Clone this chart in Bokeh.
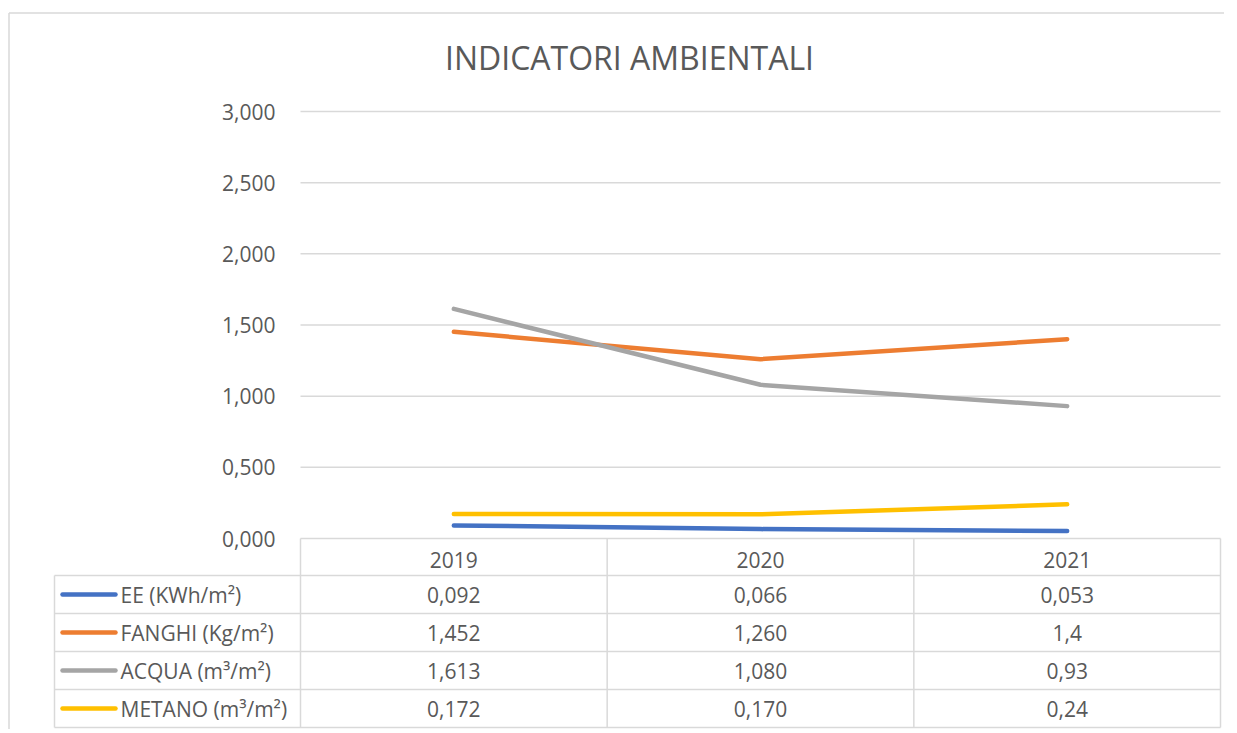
from bokeh.plotting import figure
from bokeh.models import Range1d, FixedTicker
from bokeh.core.properties import value
from bokeh.embed import file_html
from bokeh.resources import INLINE

# ---------------- data ----------------
chart_title = "INDICATORI AMBIENTALI"
years = ["2019", "2020", "2021"]
series_names = ["EE (KWh/m²)", "FANGHI (Kg/m²)", "ACQUA (m³/m²)", "METANO (m³/m²)"]
ee = [0.092, 0.066, 0.053]
fanghi = [1.452, 1.260, 1.4]
acqua = [1.613, 1.080, 0.93]
metano = [0.172, 0.170, 0.24]
ee_txt = ["0,092", "0,066", "0,053"]
fanghi_txt = ["1,452", "1,260", "1,4"]
acqua_txt = ["1,613", "1,080", "0,93"]
metano_txt = ["0,172", "0,170", "0,24"]
y_ticks = [0, 0.5, 1.0, 1.5, 2.0, 2.5, 3.0]
y_tick_labels = ["0,000", "0,500", "1,000", "1,500", "2,000", "2,500", "3,000"]
colors = ["#4472C4", "#ED7D31", "#A5A5A5", "#FFC000"]

series = [ee, fanghi, acqua, metano]
series_txt = [ee_txt, fanghi_txt, acqua_txt, metano_txt]

# ---------------- layout (figure pixels) ----------------
W, H = 1224, 729
PLOT_L, PLOT_R = 300.0, 1220.0       # x = 0 .. 3
PLOT_T, PLOT_B = 111.0, 538.0        # y = 3 .. 0
SX = (PLOT_R - PLOT_L) / 3.0
SY = (PLOT_B - PLOT_T) / 3.0


def fx(px):
    return (px - PLOT_L) / SX


def fy(py):
    return (PLOT_B - py) / SY


FONT = value("Open Sans")
TXT = "#595959"
GRID = "#d9d9d9"

p = figure(width=W, height=H, output_backend="svg", toolbar_location=None,
           x_range=Range1d(fx(0), fx(W)), y_range=Range1d(fy(H), fy(0)),
           min_border=0, outline_line_color=None)
p.background_fill_color = "white"
p.border_fill_color = "white"
p.xgrid.visible = False
p.ygrid.visible = False

# outer chart border (top + left)
p.segment(x0=[fx(8.5), fx(8.5)], y0=[fy(12.5), fy(12.5)],
          x1=[fx(8.5), fx(W + 5)], y1=[fy(H + 5), fy(12.5)],
          line_color=GRID, line_width=1.5)

# title
p.text(x=[fx(629)], y=[fy(57)], text=[chart_title], text_font=FONT,
       text_font_size="32px", text_color=TXT, text_align="center",
       text_baseline="middle")

# horizontal gridlines of the plot area
p.segment(x0=[0] * len(y_ticks), x1=[3] * len(y_ticks), y0=y_ticks, y1=y_ticks,
          line_color=GRID, line_width=1.5)

# y axis
yax = p.yaxis[0]
yax.fixed_location = 0
yax.ticker = FixedTicker(ticks=y_ticks)
yax.major_label_overrides = {t: l for t, l in zip(y_ticks, y_tick_labels)}
yax.axis_line_color = None
yax.major_tick_line_color = None
yax.minor_tick_line_color = None
yax.major_label_standoff = 19
yax.major_label_text_font = "Open Sans"
yax.major_label_text_font_size = "21px"
yax.major_label_text_color = TXT

# x axis: years in table header
xs = [i + 0.5 for i in range(len(years))]
xax = p.xaxis[0]
xax.fixed_location = 0
xax.ticker = FixedTicker(ticks=xs)
xax.major_label_overrides = {x: y for x, y in zip(xs, years)}
xax.axis_line_color = None
xax.major_tick_line_color = None
xax.minor_tick_line_color = None
xax.major_label_standoff = 7
xax.major_label_text_font = "Open Sans"
xax.major_label_text_font_size = "21px"
xax.major_label_text_color = TXT

# data table grid
row_edges = [575, 613, 651, 689, 727]
hx0 = [fx(54)] * len(row_edges)
hx1 = [3] * len(row_edges)
hy = [fy(r) for r in row_edges]
p.segment(x0=hx0, x1=hx1, y0=hy, y1=hy, line_color=GRID, line_width=1.5)
vx = [fx(54), 0, 1, 2, 3]
vy0 = [fy(575), 0, 0, 0, 0]
vy1 = [fy(727)] * 5
p.segment(x0=vx, x1=vx, y0=vy0, y1=vy1, line_color=GRID, line_width=1.5)

# lines
for vals, c in zip(series, colors):
    p.line(x=xs, y=vals, line_color=c, line_width=4.5, line_cap="round",
           line_join="round")

# table rows: legend keys, names, values
for i, (name, c, txts) in enumerate(zip(series_names, colors, series_txt)):
    yc = fy((row_edges[i] + row_edges[i + 1]) / 2.0)
    p.segment(x0=[fx(62)], x1=[fx(115)], y0=[yc], y1=[yc], line_color=c,
              line_width=4.5, line_cap="round")
    p.text(x=[fx(120)], y=[yc], text=[name], text_font=FONT,
           text_font_size="21px", text_color=TXT, text_align="left",
           text_baseline="middle")
    p.text(x=xs, y=[yc] * len(xs), text=txts, text_font=FONT,
           text_font_size="21px", text_color=TXT, text_align="center",
           text_baseline="middle")

open("out.html", "w").write(file_html(p, INLINE))
